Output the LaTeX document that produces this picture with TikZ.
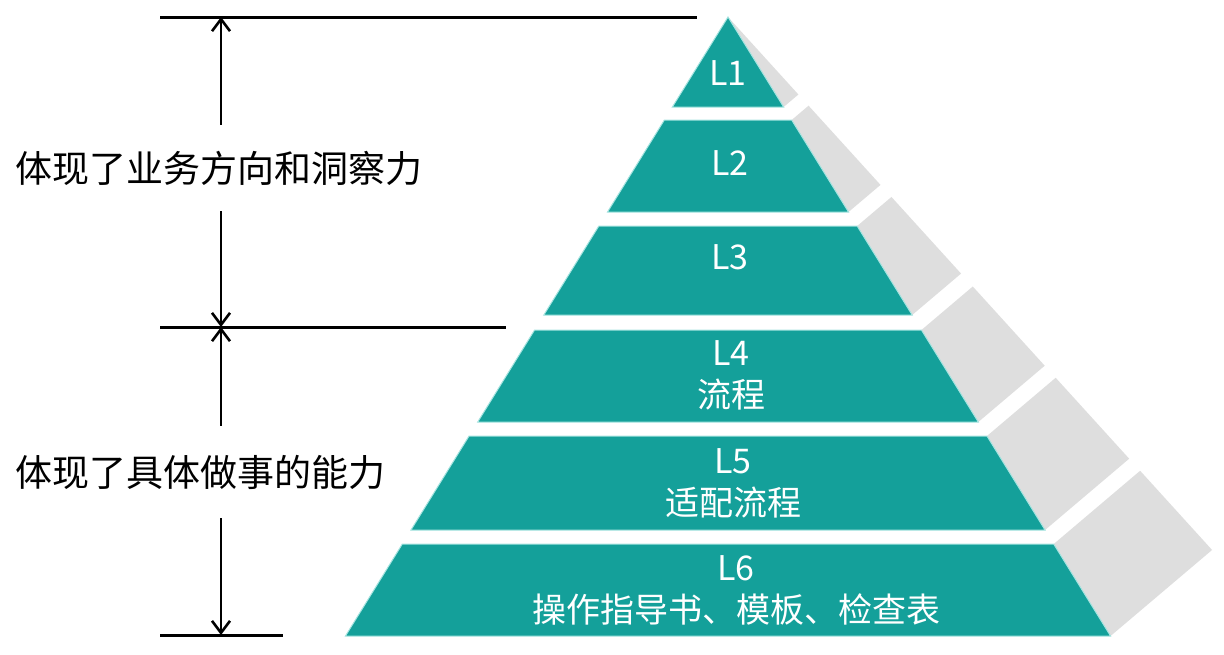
\documentclass[tikz,border=0pt]{standalone}
\usepackage{fontspec}
\usepackage{xcolor}
\usepackage{tikz}
\usetikzlibrary{positioning, arrows.meta, calc}
\newfontfamily\cjk{Noto Sans CJK SC}
\definecolor{BandTeal}{HTML}{14A09A}
\definecolor{BandRim}{HTML}{A6E4E0}
\definecolor{SideGray}{HTML}{DEDEDE}

\begin{document}
\begin{tikzpicture}[
  x=0.5pt, y=-0.5pt,
  dimarr/.style={-{Straight Barb[length=6pt, width=9pt, line width=1.3pt]}, line width=1.3pt},
  refline/.style={line width=1.5pt},
  band/.style={fill=BandTeal, draw=BandRim, line width=0.5pt},
  sideface/.style={fill=SideGray},
  lvl/.style={font=\cjk\fontsize{17}{21}\selectfont, text=white, align=center, inner sep=0pt},
  sidelbl/.style={font=\cjk\fontsize{18.5}{22}\selectfont, inner sep=0pt, minimum height=43pt},
]
  \useasboundingbox (0,0) rectangle (1224,654);

  % pyramid bands with grey side faces
  \foreach \yt/\yb in {17/107, 120/212, 226/315, 330/422, 436/530, 544/636} {
    \fill[sideface] ({728+0.618*(\yt-17)},\yt)
      -- ({728+0.782*(\yt-17)},{17+0.861*(\yt-17)})
      -- ({728+0.782*(\yb-17)},{17+0.861*(\yb-17)})
      -- ({728+0.618*(\yb-17)},\yb) -- cycle;
    \filldraw[band] ({728-0.618*(\yt-17)},\yt) -- ({728+0.618*(\yt-17)},\yt)
      -- ({728+0.618*(\yb-17)},\yb) -- ({728-0.618*(\yb-17)},\yb) -- cycle;
  }

  % level texts
  \node[lvl] (l1) at (728, 73)  {L1};
  \node[lvl] (l2) at (730, 163) {L2};
  \node[lvl] (l3) at (730, 257) {L3};
  \node[lvl] (l4) at (731, 375) {L4\\流程};
  \node[lvl] (l5) at (733, 483) {L5\\适配流程};
  \node[lvl] (l6) at (736, 590) {L6\\操作指导书、模板、检查表};

  % reference lines
  \coordinate (topA) at (221, 17);
  \coordinate (midA) at (221, 327);
  \coordinate (botA) at (221, 635);
  \draw[refline] (160, 17)  -- (697, 17);
  \draw[refline] (160, 327) -- (506, 327);
  \draw[refline] (160, 635) -- (283, 635);

  %% upper span
  \node[sidelbl, anchor=west] (upLbl) at (15, 168) {体现了业务方向和洞察力};
  \draw[dimarr] (topA |- upLbl.north) -- (topA);
  \draw[dimarr] (midA |- upLbl.south) -- (midA);

  %% lower span
  \node[sidelbl, anchor=west, minimum height=46pt] (lowLbl) at (15, 472) {体现了具体做事的能力};
  \draw[dimarr] (midA |- lowLbl.north) -- (midA);
  \draw[dimarr] (botA |- lowLbl.south) -- (botA);

\end{tikzpicture}
\end{document}
